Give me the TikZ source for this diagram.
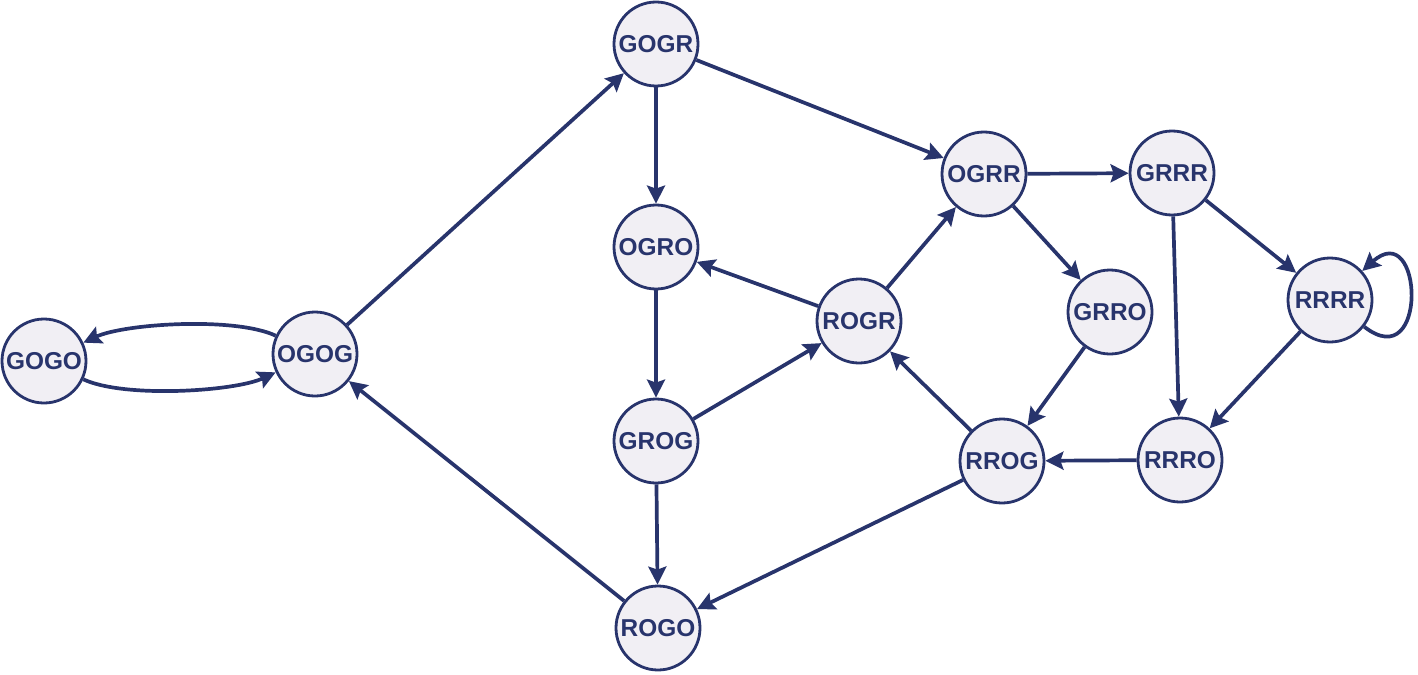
\documentclass[tikz,border=0pt]{standalone}
\usepackage{fontspec}
\setmainfont{Liberation Sans}
\usetikzlibrary{arrows.meta}
\definecolor{navy}{RGB}{40,52,108}
\definecolor{nodefill}{RGB}{241,239,244}
\tikzset{
  state/.style={circle, draw=navy, fill=nodefill, line width=2.8bp, minimum size=84bp, inner sep=0pt,
    text=navy, font=\bfseries\fontsize{24.5}{24.5}\selectfont},
  edge/.style={draw=navy, line width=3.7bp, -{Stealth[length=18bp,width=18bp,inset=3bp]}}
}
\begin{document}
\begin{tikzpicture}[x=1bp,y=-1bp]
\useasboundingbox (0,0) rectangle (1418,675);
\node[state] (GOGO) at (44,361) {GOGO};
\node[state] (OGOG) at (315,354) {OGOG};
\node[state] (GOGR) at (656,44) {GOGR};
\node[state] (OGRO) at (656,247) {OGRO};
\node[state] (GROG) at (656,441) {GROG};
\node[state] (ROGO) at (658,628) {ROGO};
\node[state] (ROGR) at (859,321) {ROGR};
\node[state] (OGRR) at (984,174) {OGRR};
\node[state] (GRRR) at (1172,173) {GRRR};
\node[state] (GRRO) at (1110,312) {GRRO};
\node[state] (RRRR) at (1330,300) {RRRR};
\node[state] (RRRO) at (1180,460) {RRRO};
\node[state] (RROG) at (1002,461) {RROG};

\draw[edge] (GOGO) to[out=-25,in=-155,looseness=0.6] (OGOG);
\draw[edge] (OGOG) to[out=155,in=25,looseness=0.6] (GOGO);
\draw[edge] (OGOG) -- (GOGR);
\draw[edge] (ROGO) -- (OGOG);
\draw[edge] (GOGR) -- (OGRO);
\draw[edge] (GOGR) -- (OGRR);
\draw[edge] (OGRO) -- (GROG);
\draw[edge] (ROGR) -- (OGRO);
\draw[edge] (GROG) -- (ROGR);
\draw[edge] (GROG) -- (ROGO);
\draw[edge] (ROGR) -- (OGRR);
\draw[edge] (OGRR) -- (GRRR);
\draw[edge] (OGRR) -- (GRRO);
\draw[edge] (GRRO) -- (RROG);
\draw[edge] (RROG) -- (ROGR);
\draw[edge] (RROG) -- (ROGO);
\draw[edge] (RRRO) -- (RROG);
\draw[edge] (GRRR) -- (RRRO);
\draw[edge] (GRRR) -- (RRRR);
\draw[edge] (RRRR) -- (RRRO);
\draw[edge] (RRRR.-38) .. controls +(38:82) and +(-42:82) .. (RRRR.42);
\end{tikzpicture}
\end{document}
